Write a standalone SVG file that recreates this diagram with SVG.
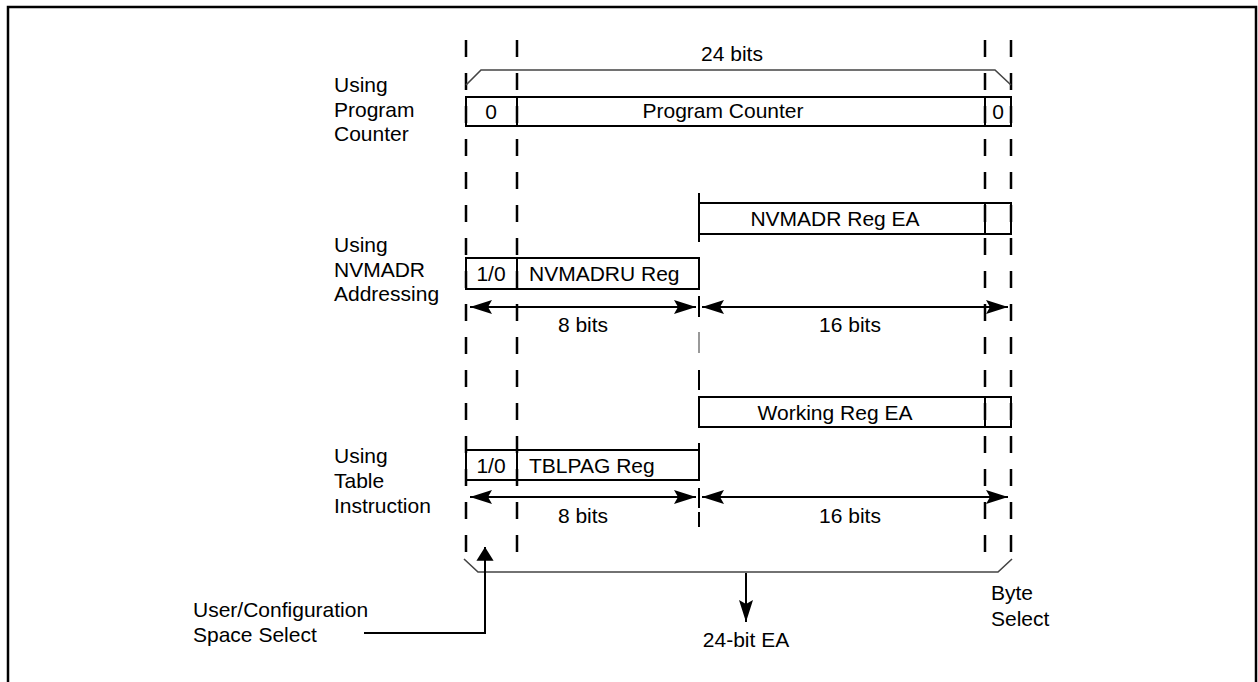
<svg xmlns="http://www.w3.org/2000/svg" width="1258" height="682" viewBox="0 0 1258 682">
<style>
text{font-family:"Liberation Sans",Arial,sans-serif;font-size:21px;fill:#000}
.c{text-anchor:middle}
.box{fill:none;stroke:#000;stroke-width:2}
.dash{fill:none;stroke:#000;stroke-width:2.5;stroke-dasharray:17 16}
.seg{fill:none;stroke:#000;stroke-width:2}
.brace{fill:none;stroke:#444;stroke-width:1.6}
.arr{fill:none;stroke:#000;stroke-width:2}
</style>
<defs>
<marker id="ah" markerUnits="userSpaceOnUse" markerWidth="24" markerHeight="16" refX="22" refY="7" orient="auto-start-reverse" viewBox="0 0 24 14">
<path d="M0,0 L22,7 L0,14 L4,7 Z" fill="#000"/>
</marker>
<marker id="ah2" markerUnits="userSpaceOnUse" markerWidth="16" markerHeight="24" refX="12" refY="7.5" orient="auto" viewBox="0 0 14 15">
<path d="M0,0 L12,7.5 L0,15 Z" fill="#000"/>
</marker>
</defs>
<rect x="8" y="7" width="1248" height="700" fill="#fff" stroke="#000" stroke-width="2.5"/>

<g id="connectors">
<path class="dash" d="M466,40 V560 M517,40 V560 M985,40 V560 M1011,40 V560"/>
<path class="seg" d="M699,193 V242 M699,296 V317 M699,370 V390 M699,443 V480 M699,488 V508 M699,512 V527"/>
<path d="M699,332 V353" stroke="#777" stroke-width="1.5"/>
<path class="brace" d="M466,85 L481,70 H995 L1011,85"/>
<path class="brace" d="M464,559 L478,572 H998 L1012,559"/>
<path class="arr" d="M470,307 H696" marker-start="url(#ah)" marker-end="url(#ah)"/>
<path class="arr" d="M702,307 H1008" marker-start="url(#ah)" marker-end="url(#ah)"/>
<path class="arr" d="M470,497 H696" marker-start="url(#ah)" marker-end="url(#ah)"/>
<path class="arr" d="M702,497 H1008" marker-start="url(#ah)" marker-end="url(#ah)"/>
<path class="arr" d="M746,573 V622" marker-end="url(#ah)"/>
<path class="arr" d="M364,633 H485 V547" marker-end="url(#ah2)"/>
</g>

<g id="label-24bits"><text class="c" x="732" y="61">24 bits</text></g>

<g id="label-pc">
<text x="334" y="92">Using</text>
<text x="334" y="117">Program</text>
<text x="334" y="141">Counter</text>
</g>
<g id="label-nvmadr">
<text x="334" y="252">Using</text>
<text x="334" y="277">NVMADR</text>
<text x="334" y="301">Addressing</text>
</g>
<g id="label-table">
<text x="334" y="463">Using</text>
<text x="334" y="488">Table</text>
<text x="334" y="513">Instruction</text>
</g>

<g id="pc-register">
<rect class="box" x="466" y="97" width="545" height="29" fill="#fff"/>
<path class="box" d="M517,97 V126 M985,97 V126"/>
<text class="c" x="491" y="119">0</text>
<text class="c" x="723" y="118">Program Counter</text>
<text class="c" x="998" y="119">0</text>
</g>

<g id="nvmadr-ea">
<rect class="box" x="699" y="203" width="312" height="31" fill="#fff"/>
<path class="box" d="M985,203 V234"/>
<text class="c" x="835" y="226">NVMADR Reg EA</text>
</g>

<g id="nvmadru">
<rect class="box" x="466" y="258" width="233" height="31" fill="#fff"/>
<path class="box" d="M517,258 V289"/>
<text class="c" x="491" y="281">1/0</text>
<text x="529" y="281">NVMADRU Reg</text>
</g>

<g id="label-8bits-1"><text class="c" x="583" y="332">8 bits</text></g>
<g id="label-16bits-1"><text class="c" x="850" y="332">16 bits</text></g>

<g id="working-ea">
<rect class="box" x="699" y="397" width="312" height="30" fill="#fff"/>
<path class="box" d="M985,397 V427"/>
<text class="c" x="835" y="420">Working Reg EA</text>
</g>

<g id="tblpag">
<rect class="box" x="466" y="450" width="233" height="30" fill="#fff"/>
<path class="box" d="M517,450 V480"/>
<text class="c" x="491" y="473">1/0</text>
<text x="529" y="473">TBLPAG Reg</text>
</g>

<g id="label-8bits-2"><text class="c" x="583" y="523">8 bits</text></g>
<g id="label-16bits-2"><text class="c" x="850" y="523">16 bits</text></g>

<g id="label-24bitea"><text class="c" x="746" y="647">24-bit EA</text></g>
<g id="label-user">
<text x="193" y="617">User/Configuration</text>
<text x="193" y="642">Space Select</text>
</g>
<g id="label-byte">
<text x="991" y="600">Byte</text>
<text x="991" y="626">Select</text>
</g>
</svg>
